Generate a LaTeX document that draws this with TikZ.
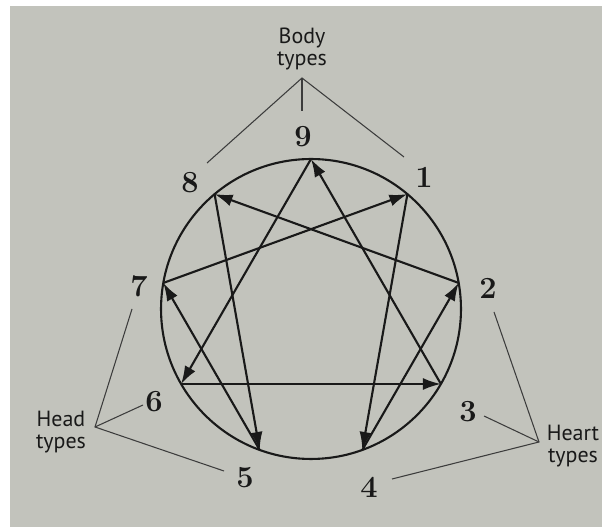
\documentclass[tikz,border=0pt]{standalone}
\usepackage{fontspec}
\newfontfamily\typefont{PT Sans}
\usepackage{tikz}
\usetikzlibrary{arrows.meta}
\definecolor{paper}{RGB}{194,195,188}
\definecolor{ink}{RGB}{25,25,25}

\begin{document}
\begin{tikzpicture}[x=0.02cm, y=0.02cm, >={Latex[length=3.6mm,width=2.4mm]},
  num/.style={font=\fontsize{17.5}{20}\selectfont\bfseries, text=ink},
  grp/.style={font=\typefont\fontsize{12.5}{13}\selectfont, align=center, text=ink, inner sep=0pt},
  link/.style={draw=ink!85, line width=0.6pt},
  flow/.style={->, draw=ink, line width=1.2pt}]

% Background
\fill[white] (0,0) rectangle (602,527);
\fill[paper] (10,0) rectangle (602,521);

% Circle and points
\coordinate (c) at (311,218);
\draw[ink, line width=1.2pt] (c) circle[radius=3cm];
\foreach \n/\a in {9/90,1/50,2/10,3/-30,4/-70,5/-110,6/-150,7/170,8/130}
  \path (c) ++(\a:150) coordinate (p\n);

% Numbers
\node[num] (n9) at (303,390) {9};
\node[num] (n1) at (424,350) {1};
\node[num] (n2) at (488,239) {2};
\node[num] (n3) at (468,115) {3};
\node[num] (n4) at (369,40) {4};
\node[num] (n5) at (245,49) {5};
\node[num] (n6) at (154,125) {6};
\node[num] (n7) at (139,241) {7};
\node[num] (n8) at (190,344) {8};

% Arrows
\foreach \s/\t in {1/4,4/2,2/8,8/5,5/7,7/1,9/6,6/3,3/9}
  \draw[flow] (p\s) -- (p\t);

% Groups
\node[grp] (body) at (302,478) {Body\\types};
\node[grp] (head) at (61,95) {Head\\types};
\node[grp] (heart) at (573,81) {Heart\\types};

\coordinate (bodytip) at (302,449);
\coordinate (headtip) at (95,100);
\coordinate (hearttip) at (539,85);

\coordinate (b8) at (207,364);
\coordinate (b9) at (302,416);
\coordinate (b1) at (404,370);
\coordinate (h7) at (132,218);
\coordinate (h6) at (143,122);
\coordinate (h5) at (224,56);
\coordinate (t2) at (494,215);
\coordinate (t3) at (484,111);
\coordinate (t4) at (392,48);

\draw[link] (b8) -- (bodytip) -- (b1);
\draw[link] (bodytip) -- (b9);
\draw[link] (h7) -- (headtip) -- (h5);
\draw[link] (headtip) -- (h6);
\draw[link] (t2) -- (hearttip) -- (t4);
\draw[link] (hearttip) -- (t3);

\end{tikzpicture}
\end{document}
